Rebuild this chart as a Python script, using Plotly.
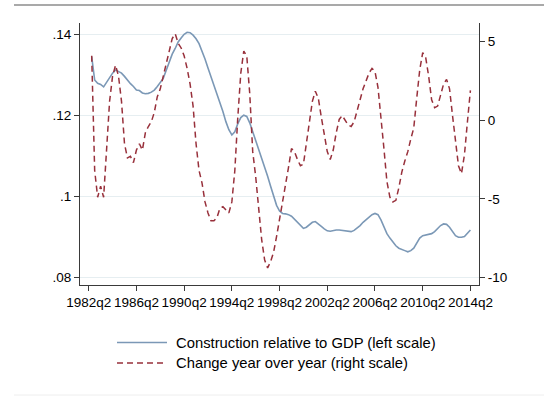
import plotly.graph_objects as go

# Quarterly data, 1982q3 .. 2014q2
start_year, start_q = 1982, 3

construction_share = [
    0.1346, 0.1288, 0.1280, 0.1277, 0.1271, 0.1282, 0.1295, 0.1305, 0.1313, 0.1309,
    0.1305, 0.1297, 0.1287, 0.1279, 0.1272, 0.1263, 0.1262, 0.1256, 0.1254, 0.1255,
    0.1258, 0.1263, 0.1272, 0.1281, 0.1292, 0.1312, 0.1333, 0.1352, 0.1366, 0.1382,
    0.1392, 0.1401, 0.1406, 0.1405, 0.1399, 0.1390, 0.1378, 0.1360, 0.1340, 0.1318,
    0.1296, 0.1275, 0.1255, 0.1235, 0.1210, 0.1185, 0.1165, 0.1152, 0.1160, 0.1180,
    0.1195, 0.1201, 0.1198, 0.1182, 0.1160, 0.1138, 0.1120, 0.1098, 0.1075, 0.1050,
    0.1025, 0.0999, 0.0978, 0.0964, 0.0958, 0.0957, 0.0955, 0.0951, 0.0943, 0.0935,
    0.0927, 0.0921, 0.0924, 0.0931, 0.0936, 0.0938, 0.0933, 0.0926, 0.0920, 0.0915,
    0.0914, 0.0916, 0.0917, 0.0917, 0.0916, 0.0914, 0.0914, 0.0913, 0.0916, 0.0921,
    0.0928, 0.0936, 0.0942, 0.0950, 0.0955, 0.0958, 0.0955, 0.0942, 0.0925, 0.0908,
    0.0897, 0.0886, 0.0878, 0.0872, 0.0868, 0.0866, 0.0863, 0.0866, 0.0872, 0.0885,
    0.0897, 0.0903, 0.0905, 0.0907, 0.0908, 0.0913, 0.0920, 0.0928, 0.0932, 0.0931,
    0.0924, 0.0912, 0.0903, 0.0899, 0.0899, 0.0901, 0.0908, 0.0917,
]

yoy_change = [
    4.1, -3.2, -4.9, -4.2, -4.9, -1.9, 1.2, 2.8, 3.5, 2.8,
    1.2, -1.5, -2.4, -2.3, -2.7, -1.9, -1.5, -1.9, -0.8, -0.4,
    -0.1, 0.5, 1.5, 2.0, 2.8, 3.7, 4.5, 5.2, 5.5, 4.9,
    4.6, 4.1, 3.3, 2.3, 0.9, -1.5, -3.2, -4.0, -5.2, -5.9,
    -6.4, -6.4, -6.2, -5.6, -5.5, -5.7, -5.9, -5.2, -3.2, 0.2,
    3.0, 4.4, 4.1, 1.7, -2.0, -3.6, -5.5, -7.6, -8.9, -9.4,
    -9.0, -8.4, -7.4, -6.3, -5.4, -4.2, -3.0, -1.8, -2.0, -2.5,
    -2.9, -2.8, -1.5, -0.1, 1.2, 1.85, 1.4, 0.2, -1.0, -2.0,
    -2.5, -1.9, -0.8, 0.05, 0.3, -0.05, -0.3, -0.4, -0.1, 0.6,
    1.3, 2.0, 2.5, 3.0, 3.3, 3.1, 2.1, 0.3, -1.8, -3.9,
    -4.9, -5.2, -5.1, -4.3, -3.3, -2.6, -2.0, -1.2, -0.5, 1.4,
    3.2, 4.3, 4.0, 2.8, 1.3, 0.8, 0.9, 1.6, 2.3, 2.6,
    2.0, 0.3, -1.3, -2.9, -3.4, -2.2, -0.1, 1.9,
]

x_tick_labels = ["1982q2", "1986q2", "1990q2", "1994q2", "1998q2",
                 "2002q2", "2006q2", "2010q2", "2014q2"]
left_tick_vals = [0.08, 0.10, 0.12, 0.14]
left_tick_text = [".08", ".1", ".12", ".14"]
right_tick_vals = [-10, -5, 0, 5]
right_tick_text = ["-10", "-5", "0", "5"]

series_names = ["Construction relative to GDP (left scale)",
                "Change year over year (right scale)"]


def qnum(label):
    y, q = label.split("q")
    return int(y) + (int(q) - 1) / 4.0


n = len(construction_share)
t0 = start_year + (start_q - 1) / 4.0
x = [t0 + 0.25 * i for i in range(n)]
x_tick_vals = [qnum(s) for s in x_tick_labels]

BLUE = "#7b98b6"
RED = "#98303b"
AXIS = "#3a3a3a"
FONT = "Liberation Sans, Arial, sans-serif"

fig = go.Figure()
fig.add_trace(go.Scatter(x=x, y=construction_share, mode="lines",
                         line=dict(color=BLUE, width=1.6),
                         name=series_names[0], showlegend=False))
fig.add_trace(go.Scatter(x=x, y=yoy_change[:n], mode="lines", yaxis="y2",
                         line=dict(color=RED, width=1.5, dash="6px,4px"),
                         name=series_names[1], showlegend=False))

W, H = 544, 397
L, R, T, B = 80, 479, 23, 285

fig.update_layout(
    width=W, height=H,
    margin=dict(l=L, r=W - R, t=T, b=H - B, pad=0),
    paper_bgcolor="white", plot_bgcolor="white",
    font=dict(family=FONT, size=13.5, color="black"),
    xaxis=dict(range=[1981.52, 2014.97], tickvals=x_tick_vals, ticktext=x_tick_labels,
               showgrid=False, zeroline=False, showline=True, linecolor=AXIS, linewidth=1.2,
               ticks="outside", ticklen=5, tickcolor=AXIS, tickwidth=1,
               tickfont=dict(size=13.5)),
    yaxis=dict(range=[0.0781, 0.1429], tickvals=left_tick_vals, ticktext=left_tick_text,
               showgrid=True, gridcolor="#e6eef1", gridwidth=1, zeroline=False,
               showline=True, linecolor=AXIS, linewidth=1.2,
               ticks="outside", ticklen=5, tickcolor=AXIS, tickwidth=1,
               tickfont=dict(size=13.5)),
    yaxis2=dict(range=[-10.49, 6.19], overlaying="y", side="right",
                tickvals=right_tick_vals, ticktext=right_tick_text,
                showgrid=False, zeroline=False, showline=True, linecolor=AXIS, linewidth=1.2,
                ticks="outside", ticklen=5, tickcolor=AXIS, tickwidth=1,
                tickfont=dict(size=13.5)),
)


def px(xp):
    return (xp - L) / (R - L)


def py(yp):
    return (B - yp) / (B - T)


shapes = [
    dict(type="line", xref="paper", yref="paper", x0=px(14), x1=px(544), y0=py(5), y1=py(5),
         line=dict(color="#555555", width=1.2)),
    dict(type="line", xref="paper", yref="paper", x0=px(14), x1=px(544), y0=py(395), y1=py(395),
         line=dict(color="#eeeeee", width=1)),
    dict(type="line", xref="paper", yref="paper", x0=px(117), x1=px(167), y0=py(342.5), y1=py(342.5),
         line=dict(color=BLUE, width=1.6)),
    dict(type="line", xref="paper", yref="paper", x0=px(117), x1=px(167), y0=py(363), y1=py(363),
         line=dict(color=RED, width=1.5, dash="6px,4px")),
]
annotations = [
    dict(xref="paper", yref="paper", x=px(174), y=py(342.5), text=series_names[0],
         showarrow=False, xanchor="left", yanchor="middle", font=dict(size=14.8)),
    dict(xref="paper", yref="paper", x=px(174), y=py(363), text=series_names[1],
         showarrow=False, xanchor="left", yanchor="middle", font=dict(size=14.8)),
]
fig.update_layout(shapes=shapes, annotations=annotations)

fig.write_html("out.html", config={"displayModeBar": False},
               post_script="document.body.style.margin='0';document.body.style.padding='0';")
